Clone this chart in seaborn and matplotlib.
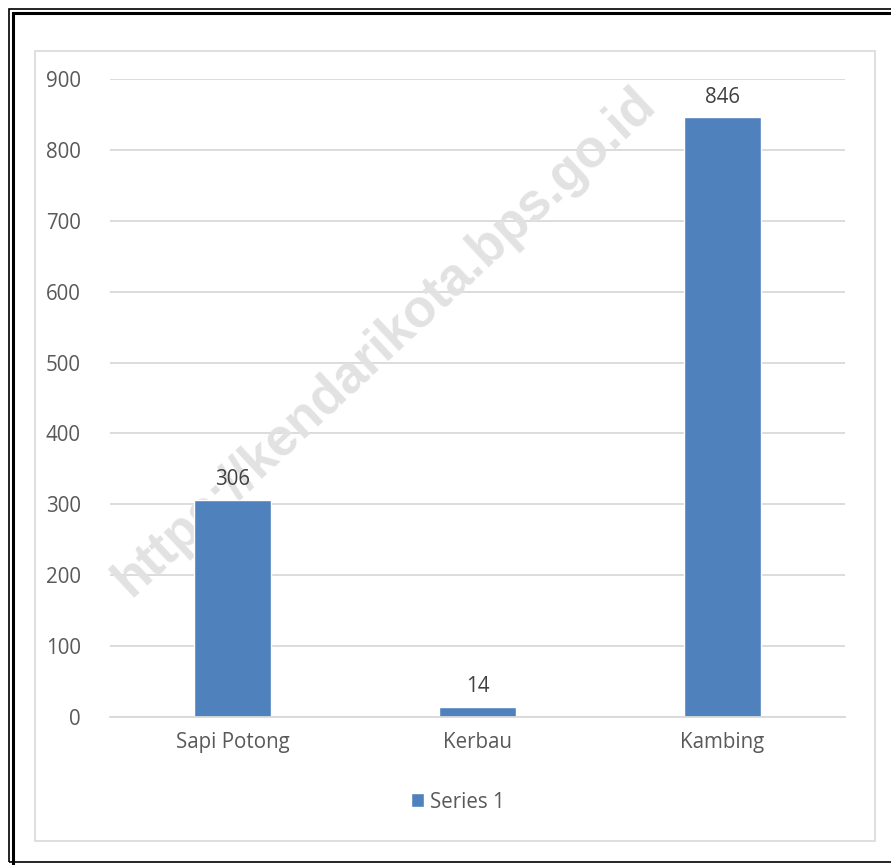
import matplotlib
matplotlib.use('Agg')
import matplotlib.pyplot as plt
from matplotlib.patches import Rectangle
import pandas as pd
import seaborn as sns

# Data
categories = ['Sapi Potong', 'Kerbau', 'Kambing']
values = [306, 14, 846]
series_name = 'Series 1'
y_ticks = [0, 100, 200, 300, 400, 500, 600, 700, 800, 900]

df = pd.DataFrame({'kategori': categories, 'jumlah': values, 'seri': series_name})

sns.set_theme(style='white')
plt.rcParams['font.family'] = ['Open Sans', 'DejaVu Sans']

W, H = 891, 865
fig = plt.figure(figsize=(W / 100, H / 100), dpi=100)
fig.patch.set_facecolor('white')

# Outer double frame and inner chart-area frame
def px_rect(x0, y0, x1, y1, **kw):
    fig.patches.append(Rectangle((x0 / W, 1 - y1 / H), (x1 - x0) / W, (y1 - y0) / H,
                                 transform=fig.transFigure, fill=False, **kw))

px_rect(8.5, 8.5, 905, 862, edgecolor='black', linewidth=1.2)
px_rect(13, 13, 905, 905, edgecolor='black', linewidth=2.2)
px_rect(34.5, 50.5, 874.5, 840.5, edgecolor='#d9d9d9', linewidth=1.2)

ax = fig.add_axes([110 / W, 1 - 717 / H, (845 - 110) / W, (717 - 79) / H])
sns.barplot(data=df, x='kategori', y='jumlah', hue='seri', palette=['#4f81bd'],
            width=0.314, ax=ax, legend=False, saturation=1, zorder=2)

ax.set_ylim(0, 900)
ax.set_xlim(-0.5, 2.5)
ax.set_yticks(y_ticks)
ax.yaxis.grid(True, color='#d9d9d9', linewidth=1.3, zorder=0)
ax.set_axisbelow(True)
for s in ['top', 'right', 'left']:
    ax.spines[s].set_visible(False)
ax.spines['bottom'].set_color('#d9d9d9')
ax.spines['bottom'].set_linewidth(1.3)
ax.set_xlabel('')
ax.set_ylabel('')
ax.tick_params(axis='both', length=0, labelsize=14.8, labelcolor='#595959')
ax.tick_params(axis='y', pad=21)
ax.tick_params(axis='x', pad=11)

for c in ax.containers:
    ax.bar_label(c, labels=[str(v) for v in values], padding=7, fontsize=14.8, color='#404040')

# Legend
handle = Rectangle((0, 0), 1, 1, facecolor='#4f81bd')
fig.legend([handle], [series_name], loc='center', bbox_to_anchor=(458 / W, 1 - 802 / H),
           frameon=False, fontsize=14.8, handlelength=0.65, handleheight=0.65,
           handletextpad=0.3, labelcolor='#595959')

# Watermark (behind the bars)
ax.text(385 / W, 1 - 342 / H, 'https://kendarikota.bps.go.id', rotation=43,
        ha='center', va='center', fontsize=38, fontweight='bold',
        color='#e2e2e2', family=['Liberation Sans', 'DejaVu Sans'],
        transform=fig.transFigure, zorder=1, clip_on=False)

fig.savefig('out.png', dpi=100)
